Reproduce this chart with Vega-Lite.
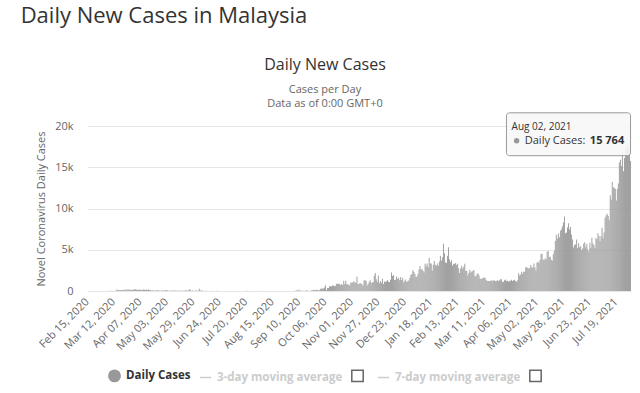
{
"$schema": "https://vega.github.io/schema/vega-lite/v6.json",
"padding": {"left": 20, "top": 5, "right": 0, "bottom": 0},
"background": "white",
"config": {"view": {"stroke": null}, "font": "Open Sans"},
"title": {"text": "Daily New Cases in Malaysia", "anchor": "start", "fontSize": 22, "fontWeight": "normal", "color": "#333", "dx": -15, "offset": 29},
"resolve": {"scale": {"color": "independent"}},
"datasets": {
"cases": [
{"d":"2020-02-15","c":1},{"d":"2020-02-16","c":0},{"d":"2020-02-17","c":0},{"d":"2020-02-18","c":0},{"d":"2020-02-19","c":0},{"d":"2020-02-20","c":0},{"d":"2020-02-21","c":0},{"d":"2020-02-22","c":0},{"d":"2020-02-23","c":0},{"d":"2020-02-24","c":0},{"d":"2020-02-25","c":0},{"d":"2020-02-26","c":0},{"d":"2020-02-27","c":1},{"d":"2020-02-28","c":1},{"d":"2020-02-29","c":4},
{"d":"2020-03-01","c":0},{"d":"2020-03-02","c":0},{"d":"2020-03-03","c":7},{"d":"2020-03-04","c":7},{"d":"2020-03-05","c":14},{"d":"2020-03-06","c":5},{"d":"2020-03-07","c":28},{"d":"2020-03-08","c":10},{"d":"2020-03-09","c":6},{"d":"2020-03-10","c":18},{"d":"2020-03-11","c":12},{"d":"2020-03-12","c":20},{"d":"2020-03-13","c":9},{"d":"2020-03-14","c":41},{"d":"2020-03-15","c":190},{"d":"2020-03-16","c":125},{"d":"2020-03-17","c":120},{"d":"2020-03-18","c":117},{"d":"2020-03-19","c":110},{"d":"2020-03-20","c":130},{"d":"2020-03-21","c":153},{"d":"2020-03-22","c":123},{"d":"2020-03-23","c":212},{"d":"2020-03-24","c":106},{"d":"2020-03-25","c":172},{"d":"2020-03-26","c":235},{"d":"2020-03-27","c":130},{"d":"2020-03-28","c":159},{"d":"2020-03-29","c":150},{"d":"2020-03-30","c":140},{"d":"2020-03-31","c":142},
{"d":"2020-04-01","c":208},{"d":"2020-04-02","c":217},{"d":"2020-04-03","c":150},{"d":"2020-04-04","c":179},{"d":"2020-04-05","c":131},{"d":"2020-04-06","c":170},{"d":"2020-04-07","c":156},{"d":"2020-04-08","c":109},{"d":"2020-04-09","c":118},{"d":"2020-04-10","c":184},{"d":"2020-04-11","c":153},{"d":"2020-04-12","c":134},{"d":"2020-04-13","c":170},{"d":"2020-04-14","c":85},{"d":"2020-04-15","c":170},{"d":"2020-04-16","c":110},{"d":"2020-04-17","c":69},{"d":"2020-04-18","c":54},{"d":"2020-04-19","c":84},{"d":"2020-04-20","c":36},{"d":"2020-04-21","c":57},{"d":"2020-04-22","c":50},{"d":"2020-04-23","c":71},{"d":"2020-04-24","c":88},{"d":"2020-04-25","c":51},{"d":"2020-04-26","c":38},{"d":"2020-04-27","c":40},{"d":"2020-04-28","c":31},{"d":"2020-04-29","c":94},{"d":"2020-04-30","c":57},
{"d":"2020-05-01","c":69},{"d":"2020-05-02","c":105},{"d":"2020-05-03","c":122},{"d":"2020-05-04","c":55},{"d":"2020-05-05","c":30},{"d":"2020-05-06","c":45},{"d":"2020-05-07","c":39},{"d":"2020-05-08","c":68},{"d":"2020-05-09","c":67},{"d":"2020-05-10","c":70},{"d":"2020-05-11","c":67},{"d":"2020-05-12","c":16},{"d":"2020-05-13","c":37},{"d":"2020-05-14","c":40},{"d":"2020-05-15","c":36},{"d":"2020-05-16","c":17},{"d":"2020-05-17","c":22},{"d":"2020-05-18","c":47},{"d":"2020-05-19","c":37},{"d":"2020-05-20","c":31},{"d":"2020-05-21","c":50},{"d":"2020-05-22","c":78},{"d":"2020-05-23","c":48},{"d":"2020-05-24","c":60},{"d":"2020-05-25","c":172},{"d":"2020-05-26","c":187},{"d":"2020-05-27","c":15},{"d":"2020-05-28","c":103},{"d":"2020-05-29","c":10},{"d":"2020-05-30","c":20},{"d":"2020-05-31","c":38},
{"d":"2020-06-01","c":57},{"d":"2020-06-02","c":38},{"d":"2020-06-03","c":20},{"d":"2020-06-04","c":277},{"d":"2020-06-05","c":19},{"d":"2020-06-06","c":93},{"d":"2020-06-07","c":37},{"d":"2020-06-08","c":8},{"d":"2020-06-09","c":19},{"d":"2020-06-10","c":7},{"d":"2020-06-11","c":31},{"d":"2020-06-12","c":10},{"d":"2020-06-13","c":8},{"d":"2020-06-14","c":7},{"d":"2020-06-15","c":8},{"d":"2020-06-16","c":2},{"d":"2020-06-17","c":41},{"d":"2020-06-18","c":6},{"d":"2020-06-19","c":5},{"d":"2020-06-20","c":7},{"d":"2020-06-21","c":21},{"d":"2020-06-22","c":1},{"d":"2020-06-23","c":4},{"d":"2020-06-24","c":11},{"d":"2020-06-25","c":7},{"d":"2020-06-26","c":6},{"d":"2020-06-27","c":6},{"d":"2020-06-28","c":4},{"d":"2020-06-29","c":0},{"d":"2020-06-30","c":1},
{"d":"2020-07-01","c":3},{"d":"2020-07-02","c":5},{"d":"2020-07-03","c":6},{"d":"2020-07-04","c":4},{"d":"2020-07-05","c":3},{"d":"2020-07-06","c":8},{"d":"2020-07-07","c":12},{"d":"2020-07-08","c":11},{"d":"2020-07-09","c":6},{"d":"2020-07-10","c":8},{"d":"2020-07-11","c":6},{"d":"2020-07-12","c":10},{"d":"2020-07-13","c":10},{"d":"2020-07-14","c":6},{"d":"2020-07-15","c":3},{"d":"2020-07-16","c":7},{"d":"2020-07-17","c":14},{"d":"2020-07-18","c":10},{"d":"2020-07-19","c":12},{"d":"2020-07-20","c":14},{"d":"2020-07-21","c":21},{"d":"2020-07-22","c":9},{"d":"2020-07-23","c":7},{"d":"2020-07-24","c":15},{"d":"2020-07-25","c":8},{"d":"2020-07-26","c":3},{"d":"2020-07-27","c":3},{"d":"2020-07-28","c":3},{"d":"2020-07-29","c":12},{"d":"2020-07-30","c":6},{"d":"2020-07-31","c":13},
{"d":"2020-08-01","c":17},{"d":"2020-08-02","c":5},{"d":"2020-08-03","c":5},{"d":"2020-08-04","c":7},{"d":"2020-08-05","c":12},{"d":"2020-08-06","c":8},{"d":"2020-08-07","c":5},{"d":"2020-08-08","c":10},{"d":"2020-08-09","c":9},{"d":"2020-08-10","c":5},{"d":"2020-08-11","c":9},{"d":"2020-08-12","c":6},{"d":"2020-08-13","c":13},{"d":"2020-08-14","c":9},{"d":"2020-08-15","c":5},{"d":"2020-08-16","c":7},{"d":"2020-08-17","c":7},{"d":"2020-08-18","c":10},{"d":"2020-08-19","c":8},{"d":"2020-08-20","c":13},{"d":"2020-08-21","c":5},{"d":"2020-08-22","c":4},{"d":"2020-08-23","c":13},{"d":"2020-08-24","c":6},{"d":"2020-08-25","c":10},{"d":"2020-08-26","c":8},{"d":"2020-08-27","c":14},{"d":"2020-08-28","c":13},{"d":"2020-08-29","c":5},{"d":"2020-08-30","c":10},{"d":"2020-08-31","c":7},
{"d":"2020-09-01","c":9},{"d":"2020-09-02","c":3},{"d":"2020-09-03","c":4},{"d":"2020-09-04","c":5},{"d":"2020-09-05","c":4},{"d":"2020-09-06","c":7},{"d":"2020-09-07","c":62},{"d":"2020-09-08","c":100},{"d":"2020-09-09","c":21},{"d":"2020-09-10","c":182},{"d":"2020-09-11","c":34},{"d":"2020-09-12","c":21},{"d":"2020-09-13","c":20},{"d":"2020-09-14","c":18},{"d":"2020-09-15","c":10},{"d":"2020-09-16","c":26},{"d":"2020-09-17","c":62},{"d":"2020-09-18","c":60},{"d":"2020-09-19","c":30},{"d":"2020-09-20","c":15},{"d":"2020-09-21","c":15},{"d":"2020-09-22","c":82},{"d":"2020-09-23","c":57},{"d":"2020-09-24","c":147},{"d":"2020-09-25","c":111},{"d":"2020-09-26","c":82},{"d":"2020-09-27","c":150},{"d":"2020-09-28","c":115},{"d":"2020-09-29","c":101},{"d":"2020-09-30","c":89},
{"d":"2020-10-01","c":260},{"d":"2020-10-02","c":287},{"d":"2020-10-03","c":317},{"d":"2020-10-04","c":293},{"d":"2020-10-05","c":432},{"d":"2020-10-06","c":691},{"d":"2020-10-07","c":89},{"d":"2020-10-08","c":374},{"d":"2020-10-09","c":354},{"d":"2020-10-10","c":589},{"d":"2020-10-11","c":563},{"d":"2020-10-12","c":561},{"d":"2020-10-13","c":660},{"d":"2020-10-14","c":660},{"d":"2020-10-15","c":589},{"d":"2020-10-16","c":629},{"d":"2020-10-17","c":869},{"d":"2020-10-18","c":871},{"d":"2020-10-19","c":865},{"d":"2020-10-20","c":862},{"d":"2020-10-21","c":732},{"d":"2020-10-22","c":847},{"d":"2020-10-23","c":710},{"d":"2020-10-24","c":1228},{"d":"2020-10-25","c":823},{"d":"2020-10-26","c":1240},{"d":"2020-10-27","c":835},{"d":"2020-10-28","c":801},{"d":"2020-10-29","c":799},{"d":"2020-10-30","c":659},{"d":"2020-10-31","c":1070},
{"d":"2020-11-01","c":957},{"d":"2020-11-02","c":1054},{"d":"2020-11-03","c":1168},{"d":"2020-11-04","c":1032},{"d":"2020-11-05","c":1009},{"d":"2020-11-06","c":1755},{"d":"2020-11-07","c":852},{"d":"2020-11-08","c":852},{"d":"2020-11-09","c":972},{"d":"2020-11-10","c":869},{"d":"2020-11-11","c":822},{"d":"2020-11-12","c":650},{"d":"2020-11-13","c":1304},{"d":"2020-11-14","c":1309},{"d":"2020-11-15","c":1208},{"d":"2020-11-16","c":659},{"d":"2020-11-17","c":849},{"d":"2020-11-18","c":1109},{"d":"2020-11-19","c":1290},{"d":"2020-11-20","c":977},{"d":"2020-11-21","c":1041},{"d":"2020-11-22","c":1096},{"d":"2020-11-23","c":1884},{"d":"2020-11-24","c":2188},{"d":"2020-11-25","c":1437},{"d":"2020-11-26","c":1109},{"d":"2020-11-27","c":1884},{"d":"2020-11-28","c":935},{"d":"2020-11-29","c":1209},{"d":"2020-11-30","c":1012},
{"d":"2020-12-01","c":1472},{"d":"2020-12-02","c":851},{"d":"2020-12-03","c":1141},{"d":"2020-12-04","c":1123},{"d":"2020-12-05","c":1169},{"d":"2020-12-06","c":1335},{"d":"2020-12-07","c":1123},{"d":"2020-12-08","c":1084},{"d":"2020-12-09","c":1354},{"d":"2020-12-10","c":2234},{"d":"2020-12-11","c":1810},{"d":"2020-12-12","c":1937},{"d":"2020-12-13","c":1340},{"d":"2020-12-14","c":1371},{"d":"2020-12-15","c":1772},{"d":"2020-12-16","c":1475},{"d":"2020-12-17","c":1565},{"d":"2020-12-18","c":1295},{"d":"2020-12-19","c":1685},{"d":"2020-12-20","c":1340},{"d":"2020-12-21","c":1600},{"d":"2020-12-22","c":1018},{"d":"2020-12-23","c":1240},{"d":"2020-12-24","c":1401},{"d":"2020-12-25","c":1097},{"d":"2020-12-26","c":1196},{"d":"2020-12-27","c":1263},{"d":"2020-12-28","c":1583},{"d":"2020-12-29","c":1925},{"d":"2020-12-30","c":2068},{"d":"2020-12-31","c":2525},
{"d":"2021-01-01","c":2295},{"d":"2021-01-02","c":2068},{"d":"2021-01-03","c":1704},{"d":"2021-01-04","c":1741},{"d":"2021-01-05","c":2027},{"d":"2021-01-06","c":2593},{"d":"2021-01-07","c":3027},{"d":"2021-01-08","c":2643},{"d":"2021-01-09","c":2643},{"d":"2021-01-10","c":2451},{"d":"2021-01-11","c":2232},{"d":"2021-01-12","c":3309},{"d":"2021-01-13","c":2985},{"d":"2021-01-14","c":3337},{"d":"2021-01-15","c":2875},{"d":"2021-01-16","c":4029},{"d":"2021-01-17","c":3346},{"d":"2021-01-18","c":3339},{"d":"2021-01-19","c":2484},{"d":"2021-01-20","c":3170},{"d":"2021-01-21","c":3631},{"d":"2021-01-22","c":3170},{"d":"2021-01-23","c":3048},{"d":"2021-01-24","c":3346},{"d":"2021-01-25","c":3048},{"d":"2021-01-26","c":3585},{"d":"2021-01-27","c":4275},{"d":"2021-01-28","c":3680},{"d":"2021-01-29","c":4094},{"d":"2021-01-30","c":5728},{"d":"2021-01-31","c":4571},
{"d":"2021-02-01","c":3455},{"d":"2021-02-02","c":3391},{"d":"2021-02-03","c":4284},{"d":"2021-02-04","c":5298},{"d":"2021-02-05","c":3847},{"d":"2021-02-06","c":3499},{"d":"2021-02-07","c":3731},{"d":"2021-02-08","c":3100},{"d":"2021-02-09","c":3288},{"d":"2021-02-10","c":3276},{"d":"2021-02-11","c":3384},{"d":"2021-02-12","c":3138},{"d":"2021-02-13","c":3318},{"d":"2021-02-14","c":2764},{"d":"2021-02-15","c":2176},{"d":"2021-02-16","c":2720},{"d":"2021-02-17","c":3049},{"d":"2021-02-18","c":2712},{"d":"2021-02-19","c":2936},{"d":"2021-02-20","c":3297},{"d":"2021-02-21","c":2437},{"d":"2021-02-22","c":2468},{"d":"2021-02-23","c":1884},{"d":"2021-02-24","c":2192},{"d":"2021-02-25","c":2580},{"d":"2021-02-26","c":2253},{"d":"2021-02-27","c":2364},{"d":"2021-02-28","c":2437},
{"d":"2021-03-01","c":2555},{"d":"2021-03-02","c":1828},{"d":"2021-03-03","c":1745},{"d":"2021-03-04","c":2063},{"d":"2021-03-05","c":2154},{"d":"2021-03-06","c":1919},{"d":"2021-03-07","c":1529},{"d":"2021-03-08","c":1468},{"d":"2021-03-09","c":1529},{"d":"2021-03-10","c":1575},{"d":"2021-03-11","c":1671},{"d":"2021-03-12","c":1575},{"d":"2021-03-13","c":1340},{"d":"2021-03-14","c":1208},{"d":"2021-03-15","c":1219},{"d":"2021-03-16","c":1215},{"d":"2021-03-17","c":1213},{"d":"2021-03-18","c":1290},{"d":"2021-03-19","c":1190},{"d":"2021-03-20","c":1317},{"d":"2021-03-21","c":1270},{"d":"2021-03-22","c":1213},{"d":"2021-03-23","c":1173},{"d":"2021-03-24","c":1319},{"d":"2021-03-25","c":1205},{"d":"2021-03-26","c":1275},{"d":"2021-03-27","c":1439},{"d":"2021-03-28","c":1431},{"d":"2021-03-29","c":1095},{"d":"2021-03-30","c":1126},{"d":"2021-03-31","c":1294},
{"d":"2021-04-01","c":1394},{"d":"2021-04-02","c":1209},{"d":"2021-04-03","c":1255},{"d":"2021-04-04","c":1156},{"d":"2021-04-05","c":1168},{"d":"2021-04-06","c":1242},{"d":"2021-04-07","c":1362},{"d":"2021-04-08","c":1209},{"d":"2021-04-09","c":1310},{"d":"2021-04-10","c":1363},{"d":"2021-04-11","c":1214},{"d":"2021-04-12","c":1118},{"d":"2021-04-13","c":1315},{"d":"2021-04-14","c":2148},{"d":"2021-04-15","c":1889},{"d":"2021-04-16","c":2011},{"d":"2021-04-17","c":2331},{"d":"2021-04-18","c":2078},{"d":"2021-04-19","c":2341},{"d":"2021-04-20","c":2340},{"d":"2021-04-21","c":2875},{"d":"2021-04-22","c":2888},{"d":"2021-04-23","c":2776},{"d":"2021-04-24","c":2717},{"d":"2021-04-25","c":2826},{"d":"2021-04-26","c":3142},{"d":"2021-04-27","c":2848},{"d":"2021-04-28","c":2848},{"d":"2021-04-29","c":3332},{"d":"2021-04-30","c":2881},
{"d":"2021-05-01","c":2500},{"d":"2021-05-02","c":3418},{"d":"2021-05-03","c":3544},{"d":"2021-05-04","c":3397},{"d":"2021-05-05","c":3744},{"d":"2021-05-06","c":4519},{"d":"2021-05-07","c":4498},{"d":"2021-05-08","c":3807},{"d":"2021-05-09","c":3733},{"d":"2021-05-10","c":3973},{"d":"2021-05-11","c":3807},{"d":"2021-05-12","c":4765},{"d":"2021-05-13","c":4855},{"d":"2021-05-14","c":4113},{"d":"2021-05-15","c":4140},{"d":"2021-05-16","c":3780},{"d":"2021-05-17","c":3660},{"d":"2021-05-18","c":4446},{"d":"2021-05-19","c":4865},{"d":"2021-05-20","c":6075},{"d":"2021-05-21","c":6806},{"d":"2021-05-22","c":6320},{"d":"2021-05-23","c":6976},{"d":"2021-05-24","c":6509},{"d":"2021-05-25","c":7289},{"d":"2021-05-26","c":7478},{"d":"2021-05-27","c":7857},{"d":"2021-05-28","c":8290},{"d":"2021-05-29","c":9020},{"d":"2021-05-30","c":6999},{"d":"2021-05-31","c":7105},
{"d":"2021-06-01","c":7703},{"d":"2021-06-02","c":8209},{"d":"2021-06-03","c":7452},{"d":"2021-06-04","c":7748},{"d":"2021-06-05","c":6824},{"d":"2021-06-06","c":6241},{"d":"2021-06-07","c":5271},{"d":"2021-06-08","c":5566},{"d":"2021-06-09","c":5671},{"d":"2021-06-10","c":6239},{"d":"2021-06-11","c":5219},{"d":"2021-06-12","c":5793},{"d":"2021-06-13","c":5304},{"d":"2021-06-14","c":5419},{"d":"2021-06-15","c":4949},{"d":"2021-06-16","c":5150},{"d":"2021-06-17","c":5738},{"d":"2021-06-18","c":5911},{"d":"2021-06-19","c":5293},{"d":"2021-06-20","c":5710},{"d":"2021-06-21","c":5048},{"d":"2021-06-22","c":4743},{"d":"2021-06-23","c":5841},{"d":"2021-06-24","c":5244},{"d":"2021-06-25","c":6440},{"d":"2021-06-26","c":5803},{"d":"2021-06-27","c":5586},{"d":"2021-06-28","c":5218},{"d":"2021-06-29","c":6437},{"d":"2021-06-30","c":6276},
{"d":"2021-07-01","c":6988},{"d":"2021-07-02","c":6658},{"d":"2021-07-03","c":6045},{"d":"2021-07-04","c":6658},{"d":"2021-07-05","c":7654},{"d":"2021-07-06","c":6387},{"d":"2021-07-07","c":7097},{"d":"2021-07-08","c":8868},{"d":"2021-07-09","c":9180},{"d":"2021-07-10","c":9353},{"d":"2021-07-11","c":9105},{"d":"2021-07-12","c":8574},{"d":"2021-07-13","c":11618},{"d":"2021-07-14","c":11079},{"d":"2021-07-15","c":13215},{"d":"2021-07-16","c":12541},{"d":"2021-07-17","c":12528},{"d":"2021-07-18","c":12366},{"d":"2021-07-19","c":10972},{"d":"2021-07-20","c":12366},{"d":"2021-07-21","c":13034},{"d":"2021-07-22","c":15573},{"d":"2021-07-23","c":15902},{"d":"2021-07-24","c":15156},{"d":"2021-07-25","c":17045},{"d":"2021-07-26","c":14516},{"d":"2021-07-27","c":16117},{"d":"2021-07-28","c":17405},{"d":"2021-07-29","c":17170},{"d":"2021-07-30","c":17786},{"d":"2021-07-31","c":17500},
{"d":"2021-08-01","c":17150},{"d":"2021-08-02","c":15764}
]
},
"vconcat": [
{
"width": 544,
"height": 165,
"title": {"text": "Daily New Cases", "subtitle": ["Cases per Day", "Data as of 0:00 GMT+0"], "anchor": "middle", "dx": -34, "fontSize": 16, "fontWeight": "normal", "color": "#333", "subtitleFontSize": 11, "subtitleColor": "#666", "subtitlePadding": 11, "subtitleLineHeight": 14, "offset": 3},
"encoding": {
"x": {"field": "d", "type": "ordinal", "title": null,
"scale": {"paddingInner": 0.1, "paddingOuter": 0},
"axis": {"values": ["2020-02-15","2020-03-12","2020-04-07","2020-05-03","2020-05-29","2020-06-24","2020-07-20","2020-08-15","2020-09-10","2020-10-06","2020-11-01","2020-11-27","2020-12-23","2021-01-18","2021-02-13","2021-03-11","2021-04-06","2021-05-02","2021-05-28","2021-06-23","2021-07-19"],
"labelExpr": "utcFormat(toDate(datum.value), '%b %d, %Y')", "labelAngle": -45, "labelAlign": "right", "labelBaseline": "middle", "labelFontSize": 11, "labelColor": "#666", "ticks": false, "domain": false, "grid": false, "labelPadding": 9}},
"y": {"field": "c", "type": "quantitative", "title": "Novel Coronavirus Daily Cases",
"scale": {"domain": [0, 20000], "nice": false},
"axis": {"values": [0, 5000, 10000, 15000, 20000], "labelExpr": "datum.value === 0 ? '0' : (datum.value / 1000) + 'k'", "labelFontSize": 11, "labelColor": "#666", "ticks": false, "domain": false, "gridColor": "#e6e6e6", "labelPadding": 14, "titleFontSize": 11, "titleFontWeight": "normal", "titleColor": "#666", "titlePadding": 8}}
},
"layer": [
{
"data": {"name": "cases"},
"mark": {"type": "bar", "stroke": null},
"encoding": {
"color": {"datum": "Daily Cases", "type": "nominal",
"scale": {"domain": ["Daily Cases", "3-day moving average", "box1", "7-day moving average", "box2"], "range": ["#999999", "#cccccc", "#ffffff", "#cccccc", "#ffffff"]},
"legend": {"orient": "none", "legendX": 21, "legendY": 243, "direction": "horizontal", "columns": 5, "title": null, "labelFontSize": 11.5, "labelFontWeight": "bold", "labelColor": "#333", "columnPadding": 5, "labelOffset": 5, "symbolType": "circle", "symbolSize": 130, "symbolStrokeWidth": 1.5,
"labelExpr": "indexof(datum.label, 'box') === 0 ? '' : datum.label + '     '",
"encoding": {
"symbols": {
"shape": {"value": {"expr": "datum.value === 'Daily Cases' ? 'circle' : (indexof(datum.value, 'box') === 0 ? 'square' : 'stroke')"}},
"fill": {"value": {"expr": "datum.value === 'Daily Cases' ? '#999999' : (indexof(datum.value, 'box') === 0 ? '#ffffff' : 'transparent')"}},
"stroke": {"value": {"expr": "datum.value === 'Daily Cases' ? '#999999' : (indexof(datum.value, 'box') === 0 ? '#666666' : '#cccccc')"}}
},
"labels": {
"fill": {"value": {"expr": "datum.value === 'Daily Cases' ? '#333333' : '#cccccc'"}}}
}}}
}
},
{
"data": {"values": [{"d": "2021-04-02", "d2": "2021-08-02", "c": 21600, "c2": 16400}]},
"mark": {"type": "rect", "fill": "#f7f7f7", "fillOpacity": 0.9, "stroke": "#999999", "strokeWidth": 1, "cornerRadius": 3},
"encoding": {"x2": {"field": "d2"}, "y2": {"field": "c2"}}
},
{
"data": {"values": [{"d": "2021-04-08", "c": 19900, "t": "Aug 02, 2021"}]},
"mark": {"type": "text", "align": "left", "baseline": "middle", "fontSize": 10, "color": "#333", "dx": -1},
"encoding": {"text": {"field": "t"}}
},
{
"data": {"values": [{"d": "2021-04-12", "c": 18200}]},
"mark": {"type": "point", "filled": true, "size": 30, "color": "#999999", "opacity": 1},
"encoding": {}
},
{
"data": {"values": [{"d": "2021-04-20", "c": 18200, "t": "Daily Cases:"}]},
"mark": {"type": "text", "align": "left", "baseline": "middle", "fontSize": 11, "color": "#333"},
"encoding": {"text": {"field": "t"}}
},
{
"data": {"values": [{"d": "2021-06-23", "c": 18200, "t": "15 764"}]},
"mark": {"type": "text", "align": "left", "baseline": "middle", "fontSize": 11, "fontWeight": "bold", "color": "#333"},
"encoding": {"text": {"field": "t"}}
}
]
}
]
}
